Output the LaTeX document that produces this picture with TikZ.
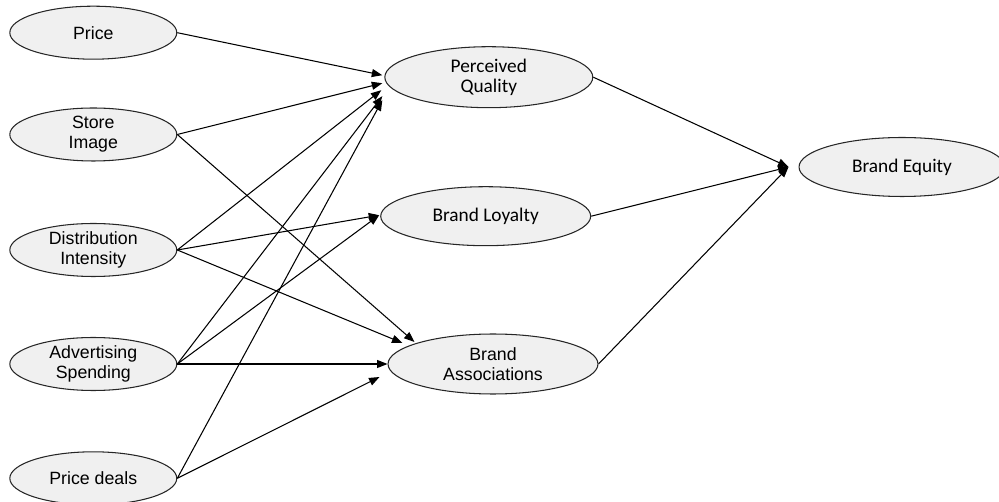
\documentclass[tikz,border=0pt]{standalone}
\usepackage{fontspec}
\setmainfont{Liberation Sans}
\newfontfamily\califont{Carlito}
\usetikzlibrary{shapes.geometric,arrows.meta,calc}
\definecolor{ovalfill}{HTML}{F0F0F0}
\definecolor{ovaledge}{HTML}{262626}
\begin{document}
\begin{tikzpicture}[x=0.02cm,y=-0.02cm,
  oval/.style={ellipse,draw=ovaledge,fill=ovalfill,line width=0.6pt,inner sep=0pt,
    align=center,font=\fontsize{10.1}{11.3}\selectfont},
  driver/.style={oval,minimum width=3.34cm,minimum height=1.06cm},
  outcome/.style={oval,minimum width=4.2cm,minimum height=1.2cm},
  cal/.style={font=\califont\fontsize{11}{11.3}\selectfont},
  link/.style={line width=0.6pt,-{Triangle[length=0.21cm,width=0.16cm]}}]
\useasboundingbox (0,0) rectangle (999,502);

% antecedents
\node[driver] (price) at (93.3,32.7)  {Price};
\node[driver] (store) at (93.3,134.5) {Store\\Image};
\node[driver] (dist)  at (93.3,250)   {Distribution\\Intensity};
\node[driver] (adv)   at (93.3,364)   {Advertising\\Spending};
\node[driver] (deals) at (93.3,478.3) {Price deals};

% brand equity dimensions
\node[outcome,cal,minimum width=4.16cm,minimum height=1.22cm] (pq) at (488.8,77.2) {Perceived\\Quality};
\node[outcome,cal,minimum height=1.18cm] (bl) at (485.7,216.2) {Brand Loyalty};
\node[outcome] (ba) at (493,364) {Brand\\Associations};
\node[outcome,cal,minimum width=4.12cm,minimum height=1.18cm] (be) at (902,167) {Brand Equity};

\coordinate (hub) at ($(be.west)+(-10,0)$);

% effects on perceived quality
\draw[link] (price.east) -- ($(pq.west)+(-2,-2)$);
\draw[link] (store.east) -- ($(pq.west)+(-2,6)$);
\draw[link] (dist.east)  -- ($(pq.west)+(-3,13)$);
\draw[link] (adv.east)   -- ($(pq.west)+(-2,19)$);
\draw[link] (deals.east) -- ($(pq.west)+(-2,23)$);

% effects on brand loyalty
\draw[link] (dist.east) -- ($(bl.west)+(-1,-1)$);
\draw[link] (adv.east)  -- ($(bl.west)+(-1,-1)$);

% effects on brand associations
\draw[link] (store.east) -- ($(ba.west)+(27,-22)$);
\draw[link] (dist.east)  -- ($(ba.west)+(15,-21)$);
\draw[link] (adv.east)   -- (ba.west);
\draw[link] (deals.east) -- ($(ba.west)+(-8,13)$);

% dimensions to brand equity
\draw[link] (pq.east) -- (hub);
\draw[link] (bl.east) -- (hub);
\draw[link] (ba.east) -- (hub);
\end{tikzpicture}
\end{document}
